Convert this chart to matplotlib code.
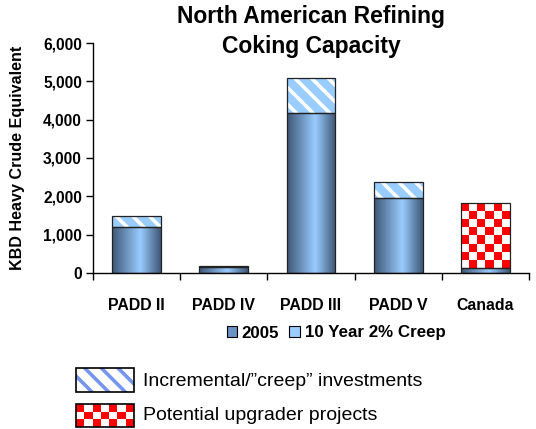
import matplotlib
matplotlib.use("Agg")
import matplotlib.pyplot as plt
import numpy as np
from matplotlib.colors import LinearSegmentedColormap, ListedColormap
from matplotlib.patches import Patch, Rectangle
from matplotlib.ticker import FuncFormatter, FixedLocator

plt.rcParams["font.family"] = ["Liberation Sans", "DejaVu Sans"]
plt.rcParams["hatch.linewidth"] = 2.6

# data (KBD heavy crude equivalent)
regions = ["PADD II", "PADD IV", "PADD III", "PADD V", "Canada"]
base_2005 = [1210, 150, 4165, 1950, 140]
creep_10yr = [270, 20, 915, 425, 0]
upgrader = [0, 0, 0, 0, 1690]

LIGHT_BLUE = "#99CCFF"
DARK_BLUE = "#3F5878"
STRIPE_BLUE = "#7595EE"

W, H = 536, 429
fig = plt.figure(figsize=(W / 100, H / 100), dpi=100)
ax = fig.add_axes([93 / W, 1 - 273 / H, (529 - 93) / W, (273 - 43) / H])

x = np.arange(len(regions))
bw = 0.56

# 2005 base bars with a cylinder-like gradient
grad_cmap = LinearSegmentedColormap.from_list(
    "cyl", [(0, DARK_BLUE), (0.58, LIGHT_BLUE), (1, DARK_BLUE)])
base_bars = ax.bar(x, base_2005, bw, color=LIGHT_BLUE, edgecolor="none", zorder=2)
grad = np.linspace(0, 1, 64).reshape(1, -1)
for b in base_bars:
    im = ax.imshow(grad, cmap=grad_cmap, aspect="auto", interpolation="bilinear",
                   extent=[b.get_x(), b.get_x() + b.get_width(), 0, b.get_height()],
                   zorder=2.1)
    im.set_clip_path(b)
ax.bar(x, base_2005, bw, facecolor="none", edgecolor="#222222", linewidth=0.9, zorder=3)

# creep segments: light blue with white diagonal stripes
ax.bar(x, creep_10yr, bw, bottom=base_2005, color=LIGHT_BLUE, edgecolor="white",
       linewidth=0, hatch="\\\\", zorder=2)
creep_out = ax.bar(x, creep_10yr, bw, bottom=base_2005, facecolor="none",
                   edgecolor="#222222", linewidth=0.9, zorder=3)
for b, v in zip(creep_out, creep_10yr):
    if v == 0:
        b.set_visible(False)

ax.set_xlim(-0.5, len(regions) - 0.5)
ax.set_ylim(0, 6000)

# upgrader projects: red / white checkerboard
checker_cmap = ListedColormap(["white", "#FF0000"])
fig.canvas.draw()
up_bars = ax.bar(x, upgrader, bw, bottom=base_2005, facecolor="white",
                 edgecolor="none", zorder=2)
for b, v in zip(up_bars, upgrader):
    if v == 0:
        continue
    p0 = ax.transData.transform((b.get_x(), b.get_y()))
    p1 = ax.transData.transform((b.get_x() + b.get_width(), b.get_y() + b.get_height()))
    nc = max(1, int(round((p1[0] - p0[0]) / 8.2)))
    nr = max(1, int(round((p1[1] - p0[1]) / 8.0)))
    board = (np.add.outer(np.arange(nr), np.arange(nc)) + 1) % 2
    im = ax.imshow(board, cmap=checker_cmap, aspect="auto", interpolation="nearest",
                   extent=[b.get_x(), b.get_x() + b.get_width(), b.get_y(),
                           b.get_y() + b.get_height()], zorder=2.1)
    im.set_clip_path(b)
    ax.add_patch(Rectangle((b.get_x(), b.get_y()), b.get_width(), b.get_height(),
                           facecolor="none", edgecolor="#222222", linewidth=0.9, zorder=3))

ax.set_xlim(-0.5, len(regions) - 0.5)
ax.set_ylim(0, 6000)

# axes styling
for s in ["top", "right"]:
    ax.spines[s].set_visible(False)
ax.spines["left"].set_linewidth(1.0)
ax.spines["bottom"].set_linewidth(1.0)
ax.set_yticks(range(0, 6001, 1000))
ax.yaxis.set_major_formatter(FuncFormatter(lambda v, p: f"{int(v):,}"))
ax.tick_params(axis="y", length=5, width=1, pad=3, labelsize=11.2)
for lab in ax.get_yticklabels():
    lab.set_fontweight("bold")

ax.xaxis.set_major_locator(FixedLocator(np.arange(-0.5, len(regions), 1.0)))
ax.xaxis.set_minor_locator(FixedLocator(x))
ax.set_xticklabels([], minor=False)
ax.set_xticklabels(regions, minor=True, fontweight="bold", fontsize=11.4)
ax.tick_params(axis="x", which="major", length=5, width=1)
ax.tick_params(axis="x", which="minor", length=0, pad=18)

fig.text(18 / W, 1 - 158 / H, "KBD Heavy Crude Equivalent", rotation=90,
         ha="center", va="center", fontsize=11.6, fontweight="bold")
fig.text(311 / W, 1 - 16 / H, "North American Refining", ha="center", va="center",
         fontsize=16.5, fontweight="bold")
fig.text(311 / W, 1 - 46 / H, "Coking Capacity", ha="center", va="center",
         fontsize=16.5, fontweight="bold")

# series legend
handles = [Patch(facecolor="#6A93C4", edgecolor="black", linewidth=0.8, label="2005"),
           Patch(facecolor=LIGHT_BLUE, edgecolor="black", linewidth=0.8,
                 label="10 Year 2% Creep")]
fig.legend(handles=handles, loc="center", bbox_to_anchor=(336 / W, 1 - 333 / H),
           ncol=2, frameon=False, handlelength=0.6, handleheight=0.6,
           handletextpad=0.3, columnspacing=0.6,
           prop={"weight": "bold", "size": 12.2})

# pattern key below the chart
kax = fig.add_axes([0, 0, 1, 1])
kax.set_xlim(0, W)
kax.set_ylim(H, 0)
kax.axis("off")
kax.add_patch(Rectangle((76, 368), 58, 24, facecolor="white", edgecolor=STRIPE_BLUE,
                        linewidth=0, hatch="\\\\"))
kax.add_patch(Rectangle((76, 368), 58, 24, facecolor="none", edgecolor="black",
                        linewidth=1.2))
key_board = (np.add.outer(np.arange(3), np.arange(7)) + 1) % 2
kax.imshow(key_board, cmap=checker_cmap, aspect="auto", interpolation="nearest",
           extent=[76, 134, 427, 404])
kax.add_patch(Rectangle((76, 404), 58, 23, facecolor="none", edgecolor="black",
                        linewidth=1.2))
kax.set_xlim(0, W)
kax.set_ylim(H, 0)
kax.text(143, 381, "Incremental/\u201dcreep\u201d investments", ha="left", va="center",
         fontsize=14)
kax.text(143, 416, "Potential upgrader projects", ha="left", va="center", fontsize=14)

fig.savefig("out.png", dpi=100)
